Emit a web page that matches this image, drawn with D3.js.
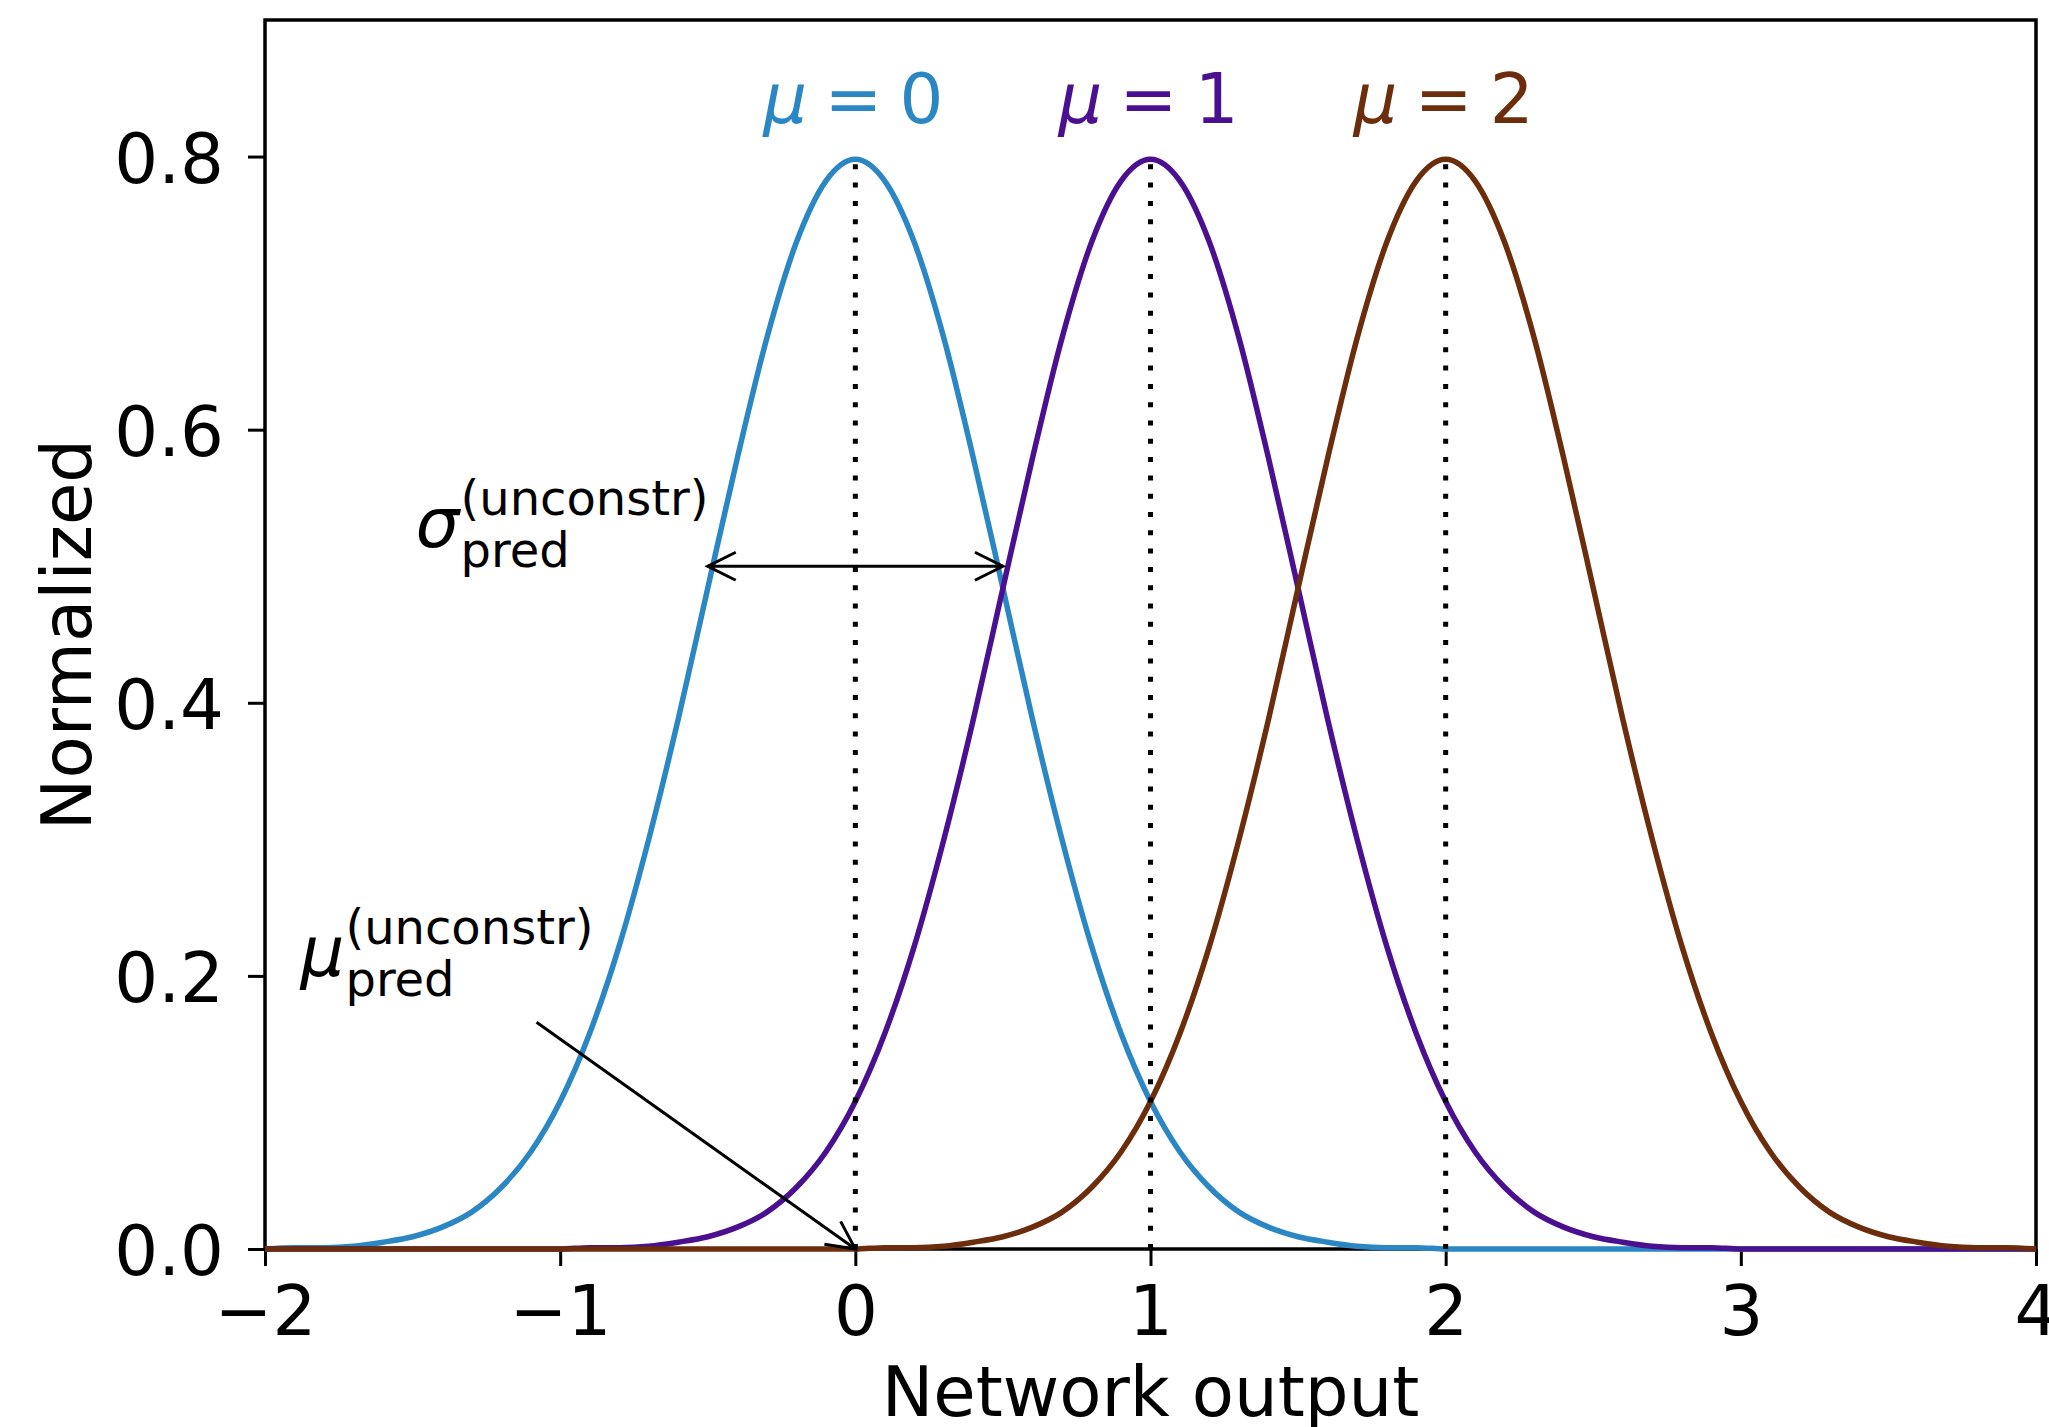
<!DOCTYPE html>
<html>
<head>
<meta charset="utf-8">
<script src="https://cdn.jsdelivr.net/npm/d3@7"></script>
<style>
  body { margin: 0; background: #fff; }
  svg { display: block; font-family: "DejaVu Sans", sans-serif; }
</style>
</head>
<body>
<div id="chart"></div>
<script>
// sample grid along the x axis and the three curves
var xGrid = [-2.0, -1.9, -1.8, -1.7, -1.6, -1.5, -1.4, -1.3, -1.2, -1.1,
             -1.0, -0.9, -0.8, -0.7, -0.6, -0.5, -0.4, -0.3, -0.2, -0.1,
              0.0,  0.1,  0.2,  0.3,  0.4,  0.5,  0.6,  0.7,  0.8,  0.9,
              1.0,  1.1,  1.2,  1.3,  1.4,  1.5,  1.6,  1.7,  1.8,  1.9,
              2.0,  2.1,  2.2,  2.3,  2.4,  2.5,  2.6,  2.7,  2.8,  2.9,
              3.0,  3.1,  3.2,  3.3,  3.4,  3.5,  3.6,  3.7,  3.8,  3.9, 4.0];

var curveMu0 = [0.000, 0.001, 0.001, 0.002, 0.005, 0.009, 0.016, 0.027, 0.045, 0.071,
                0.108, 0.158, 0.222, 0.300, 0.388, 0.484, 0.579, 0.667, 0.737, 0.782,
                0.798, 0.782, 0.737, 0.667, 0.579, 0.484, 0.388, 0.300, 0.222, 0.158,
                0.108, 0.071, 0.045, 0.027, 0.016, 0.009, 0.005, 0.002, 0.001, 0.001,
                0.000, 0.000, 0.000, 0.000, 0.000, 0.000, 0.000, 0.000, 0.000, 0.000,
                0.000, 0.000, 0.000, 0.000, 0.000, 0.000, 0.000, 0.000, 0.000, 0.000, 0.000];

var curveMu1 = [0.000, 0.000, 0.000, 0.000, 0.000, 0.000, 0.000, 0.000, 0.000, 0.000,
                0.000, 0.001, 0.001, 0.002, 0.005, 0.009, 0.016, 0.027, 0.045, 0.071,
                0.108, 0.158, 0.222, 0.300, 0.388, 0.484, 0.579, 0.667, 0.737, 0.782,
                0.798, 0.782, 0.737, 0.667, 0.579, 0.484, 0.388, 0.300, 0.222, 0.158,
                0.108, 0.071, 0.045, 0.027, 0.016, 0.009, 0.005, 0.002, 0.001, 0.001,
                0.000, 0.000, 0.000, 0.000, 0.000, 0.000, 0.000, 0.000, 0.000, 0.000, 0.000];

var curveMu2 = [0.000, 0.000, 0.000, 0.000, 0.000, 0.000, 0.000, 0.000, 0.000, 0.000,
                0.000, 0.000, 0.000, 0.000, 0.000, 0.000, 0.000, 0.000, 0.000, 0.000,
                0.000, 0.001, 0.001, 0.002, 0.005, 0.009, 0.016, 0.027, 0.045, 0.071,
                0.108, 0.158, 0.222, 0.300, 0.388, 0.484, 0.579, 0.667, 0.737, 0.782,
                0.798, 0.782, 0.737, 0.667, 0.579, 0.484, 0.388, 0.300, 0.222, 0.158,
                0.108, 0.071, 0.045, 0.027, 0.016, 0.009, 0.005, 0.002, 0.001, 0.001, 0.000];

var means = [0, 1, 2];
var peakValue = 0.8;
var xTicks = [-2, -1, 0, 1, 2, 3, 4];
var yTicks = [0.0, 0.2, 0.4, 0.6, 0.8];

var curveColors = ['#2b86c4', '#4b1090', '#6c2d0c'];

;(function () {

    var width = 2049, height = 1427;
    var margin = {top: 20, right: 13, bottom: 178, left: 265};
    var fontSize = 69, subSize = 48;

    var x = d3.scaleLinear().domain([-2, 4]).range([margin.left, width - margin.right]);
    var y = d3.scaleLinear().domain([0, 0.9]).range([height - margin.bottom, margin.top]);

    var svg = d3.select('#chart').append('svg')
        .attr('width', width)
        .attr('height', height);

    svg.append('rect')
        .attr('width', width)
        .attr('height', height)
        .attr('fill', '#fff');

    // axes
    function fmt(d) {
        return d < 0 ? '\u2212' + Math.abs(d) : d3.format('d')(d);
    }

    var xAxis = svg.append('g')
        .attr('transform', 'translate(0,' + y(0) + ')')
        .call(d3.axisBottom(x).tickValues(xTicks).tickFormat(fmt).tickSize(17).tickPadding(20));

    var yAxis = svg.append('g')
        .attr('transform', 'translate(' + x(-2) + ',0)')
        .call(d3.axisLeft(y).tickValues(yTicks).tickFormat(d3.format('.1f')).tickSize(17).tickPadding(24));

    [xAxis, yAxis].forEach(function (g) {
        g.select('.domain').remove();
        g.selectAll('.tick line').attr('stroke', '#000').attr('stroke-width', 3);
        g.selectAll('.tick text')
            .attr('fill', '#000')
            .style('font-size', fontSize + 'px')
            .style('font-family', '"DejaVu Sans", sans-serif');
    });
    yAxis.selectAll('.tick text').attr('dy', '0.37em');

    svg.append('rect')
        .attr('x', x(-2))
        .attr('y', y(0.9))
        .attr('width', x(4) - x(-2))
        .attr('height', y(0) - y(0.9))
        .attr('fill', 'none')
        .attr('stroke', '#000')
        .attr('stroke-width', 3.5);

    svg.append('text')
        .attr('x', (x(-2) + x(4)) / 2)
        .attr('y', 1416)
        .attr('text-anchor', 'middle')
        .style('font-size', fontSize + 'px')
        .text('Network output');

    svg.append('text')
        .attr('transform', 'translate(91,' + (y(0) + y(0.9)) / 2 + ') rotate(-90)')
        .attr('text-anchor', 'middle')
        .style('font-size', fontSize + 'px')
        .text('Normalized');

    // curves
    var series = [curveMu0, curveMu1, curveMu2].map(function (vals, i) {
        return { mu: means[i], color: curveColors[i],
                 points: xGrid.map(function (xv, j) { return [xv, vals[j]]; }) };
    });

    var line = d3.line()
        .x(function (d) { return x(d[0]); })
        .y(function (d) { return y(d[1]); })
        .curve(d3.curveMonotoneX);

    svg.selectAll('path.curve')
        .data(series)
        .enter()
        .append('path')
        .attr('class', 'curve')
        .attr('d', function (s) { return line(s.points); })
        .attr('fill', 'none')
        .attr('stroke', function (s) { return s.color; })
        .attr('stroke-width', 5.5);

    // dotted lines at each mean
    svg.selectAll('line.mean')
        .data(series)
        .enter()
        .append('line')
        .attr('class', 'mean')
        .attr('x1', function (s) { return x(s.mu); })
        .attr('x2', function (s) { return x(s.mu); })
        .attr('y1', y(0))
        .attr('y2', y(peakValue))
        .attr('stroke', '#000')
        .attr('stroke-width', 5)
        .attr('stroke-dasharray', '5 13.3');

    // mu = k labels
    series.forEach(function (s) {
        var t = svg.append('text')
            .attr('x', x(s.mu) - 2)
            .attr('y', 123)
            .attr('text-anchor', 'middle')
            .attr('fill', s.color)
            .style('font-size', fontSize + 'px');
        t.append('tspan').style('font-style', 'italic').text('\u03bc');
        t.append('tspan').text('\u2005=\u2005' + s.mu);
    });

    // annotations
    function arrowHead(g, tx, ty, fx, fy) {
        var a = Math.atan2(ty - fy, tx - fx), len = 28, half = 14;
        var bx = tx - len * Math.cos(a), by = ty - len * Math.sin(a);
        var px = -Math.sin(a) * half, py = Math.cos(a) * half;
        g.append('path')
            .attr('d', 'M' + (bx + px) + ',' + (by + py) + 'L' + tx + ',' + ty + 'L' + (bx - px) + ',' + (by - py))
            .attr('fill', 'none')
            .attr('stroke', '#000')
            .attr('stroke-width', 3);
    }

    function arrow(x1, y1, x2, y2, both) {
        var g = svg.append('g');
        g.append('line')
            .attr('x1', x(x1)).attr('y1', y(y1))
            .attr('x2', x(x2)).attr('y2', y(y2))
            .attr('stroke', '#000')
            .attr('stroke-width', 3);
        arrowHead(g, x(x2), y(y2), x(x1), y(y1));
        if (both) arrowHead(g, x(x1), y(y1), x(x2), y(y2));
    }

    function mathLabel(symbol, px, py) {
        var bx = x(px), by = y(py);
        svg.append('text')
            .attr('x', bx).attr('y', by)
            .style('font-size', fontSize + 'px')
            .style('font-style', 'italic')
            .text(symbol);
        svg.append('text')
            .attr('x', bx + 45).attr('y', by - 32)
            .style('font-size', subSize + 'px')
            .text('(unconstr)');
        svg.append('text')
            .attr('x', bx + 45).attr('y', by + 20)
            .style('font-size', subSize + 'px')
            .text('pred');
    }

    arrow(-0.5, 0.5, 0.5, 0.5, true);
    mathLabel('\u03c3', -1.49, 0.514);

    arrow(-1.08, 0.166, 0, 0, false);
    mathLabel('\u03bc', -1.88, 0.200);

})();
</script>
</body>
</html>
